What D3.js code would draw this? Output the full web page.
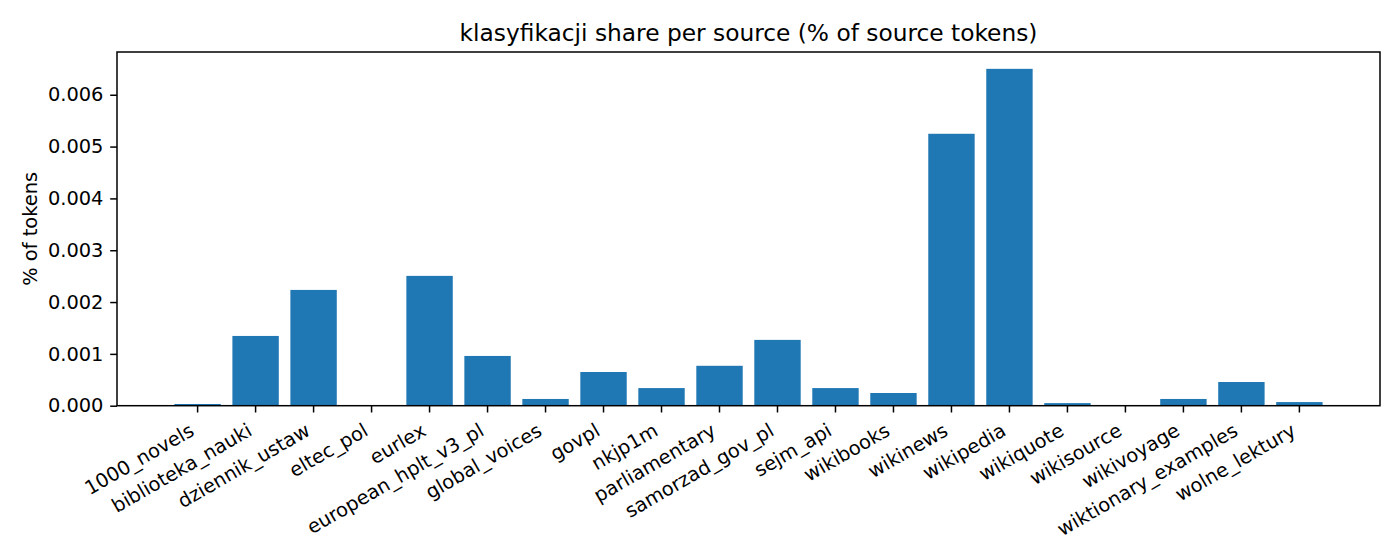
<!DOCTYPE html>
<html>
<head>
<meta charset="utf-8">
<script src="https://cdn.jsdelivr.net/npm/d3@7"></script>
<style>
  html, body { margin: 0; padding: 0; background: #fff; }
  svg { display: block; font-family: "DejaVu Sans", sans-serif; }
</style>
</head>
<body>
<svg id="chart" width="1400" height="560"></svg>
<script>
const categories = ["1000_novels", "biblioteka_nauki", "dziennik_ustaw", "eltec_pol", "eurlex",
  "european_hplt_v3_pl", "global_voices", "govpl", "nkjp1m", "parliamentary",
  "samorzad_gov_pl", "sejm_api", "wikibooks", "wikinews", "wikipedia",
  "wikiquote", "wikisource", "wikivoyage", "wiktionary_examples", "wolne_lektury"];
const values = [0.000033, 0.001346, 0.002234, 0.000004, 0.002505,
  0.00096, 0.00013, 0.00065, 0.00034, 0.00077,
  0.00127, 0.00034, 0.000245, 0.005247, 0.0065,
  0.00005, 0.000004, 0.00013, 0.000457, 0.00007];
const yTicks = [0, 0.001, 0.002, 0.003, 0.004, 0.005, 0.006];
const titleText = "klasyfikacji share per source (% of source tokens)";
const yLabel = "% of tokens";

const L = 117, R = 1380, T = 52, B = 405.7;
const fs = 19.4;
const svg = d3.select("#chart");

const x = d3.scaleBand().domain(categories).range([L, R]).paddingInner(0.2).paddingOuter(0.99);
const y = d3.scaleLinear().domain([0, d3.max(values) * 1.05]).range([B, T]);

svg.append("g").selectAll("rect").data(categories).join("rect")
  .attr("x", d => x(d))
  .attr("width", x.bandwidth())
  .attr("y", (d, i) => y(values[i]))
  .attr("height", (d, i) => B - y(values[i]))
  .attr("fill", "#1f77b4");

// y axis
const yAxis = d3.axisLeft(y).tickValues(yTicks).tickFormat(d3.format(".3f")).tickSize(6.8).tickPadding(6.8);
const gy = svg.append("g").attr("transform", `translate(${L},0)`).call(yAxis);
gy.select(".domain").remove();
gy.selectAll(".tick line").attr("stroke", "#000").attr("stroke-width", 1.5);
gy.selectAll(".tick text").attr("font-size", fs).attr("fill", "#000").attr("font-family", "DejaVu Sans");

// x axis
const xAxis = d3.axisBottom(x).tickSize(6.8).tickPadding(0);
const gx = svg.append("g").attr("transform", `translate(0,${B})`).call(xAxis);
gx.select(".domain").remove();
gx.selectAll(".tick line").attr("stroke", "#000").attr("stroke-width", 1.5);
gx.selectAll(".tick text")
  .attr("font-size", fs).attr("fill", "#000").attr("font-family", "DejaVu Sans")
  .attr("text-anchor", "end")
  .attr("dy", null)
  .attr("y", null)
  .attr("transform", `translate(${-2.2},${13.6 + 15.1}) rotate(-30)`);

// frame
svg.append("rect").attr("x", L).attr("y", T).attr("width", R - L).attr("height", B - T)
  .attr("fill", "none").attr("stroke", "#000").attr("stroke-width", 1.5);

// title
svg.append("text").attr("x", (L + R) / 2).attr("y", 40.5)
  .attr("text-anchor", "middle").attr("font-size", 23.3).attr("fill", "#000")
  .text(titleText);

// y label
svg.append("text").attr("transform", `translate(37,${(T + B) / 2}) rotate(-90)`)
  .attr("text-anchor", "middle").attr("font-size", fs).attr("fill", "#000")
  .text(yLabel);
</script>
</body>
</html>
